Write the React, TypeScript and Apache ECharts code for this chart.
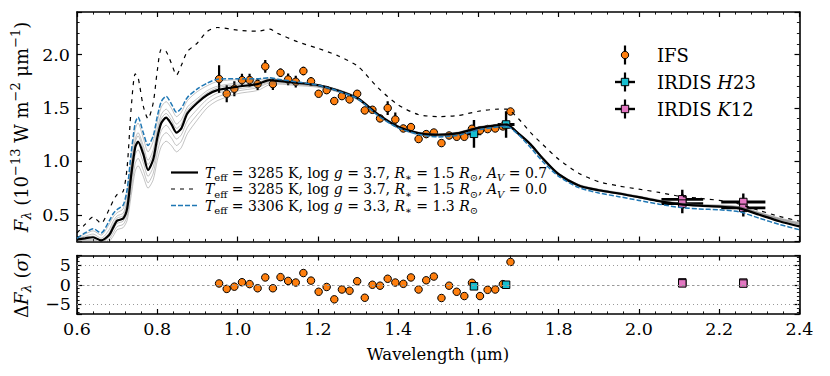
import React, { useEffect, useRef } from 'react';
import * as echarts from 'echarts';

const FONT = '"DejaVu Serif", serif';

// ---- model spectra (wavelength grid in micron, flux in 1e-13 W m^-2 um^-1)
const MODEL_WL = [0.60,0.62,0.64,0.66,0.68,0.69,0.70,0.715,0.725,0.735,0.745,0.752,0.765,0.777,0.79,0.80,0.81,0.822,0.835,0.848,0.86,0.875,0.90,0.925,0.95,1.00,1.05,1.08,1.10,1.15,1.20,1.25,1.30,1.35,1.40,1.45,1.50,1.55,1.60,1.65,1.67,1.70,1.73,1.76,1.80,1.85,1.90,1.95,2.00,2.05,2.10,2.15,2.20,2.25,2.30,2.35,2.40];
const BEST_FIT = [0.27,0.28,0.29,0.26,0.31,0.38,0.445,0.465,0.56,0.87,1.13,1.185,1.07,0.92,1.02,1.22,1.36,1.41,1.35,1.27,1.31,1.45,1.55,1.625,1.668,1.70,1.725,1.762,1.755,1.735,1.715,1.665,1.59,1.44,1.325,1.265,1.25,1.265,1.315,1.34,1.345,1.26,1.16,1.03,0.88,0.775,0.73,0.70,0.665,0.628,0.60,0.585,0.577,0.56,0.50,0.44,0.39];
const NO_EXTINCTION = [0.33,0.41,0.48,0.42,0.55,0.63,0.69,0.72,0.95,1.50,1.82,1.79,1.52,1.40,1.55,1.85,2.05,2.03,1.92,1.81,1.90,2.03,2.11,2.22,2.255,2.23,2.22,2.24,2.20,2.12,2.06,1.99,1.89,1.69,1.53,1.44,1.42,1.43,1.47,1.49,1.49,1.40,1.27,1.16,1.02,0.89,0.81,0.77,0.74,0.71,0.675,0.655,0.635,0.60,0.54,0.485,0.44];
const ALT_FIT = [0.28,0.33,0.37,0.33,0.44,0.51,0.55,0.59,0.74,1.08,1.36,1.415,1.27,1.15,1.24,1.42,1.56,1.61,1.54,1.46,1.50,1.60,1.68,1.735,1.77,1.775,1.775,1.785,1.77,1.745,1.715,1.66,1.585,1.43,1.315,1.255,1.23,1.245,1.295,1.325,1.33,1.25,1.13,1.00,0.86,0.755,0.705,0.67,0.635,0.60,0.57,0.555,0.547,0.528,0.468,0.41,0.36];
const SAMPLE_1 = [0.29,0.32,0.35,0.31,0.41,0.48,0.52,0.555,0.70,1.02,1.30,1.36,1.22,1.09,1.19,1.37,1.51,1.56,1.50,1.42,1.46,1.57,1.655,1.71,1.75,1.765,1.765,1.78,1.77,1.745,1.72,1.67,1.595,1.445,1.33,1.27,1.255,1.27,1.32,1.345,1.35,1.265,1.165,1.035,0.885,0.78,0.735,0.705,0.67,0.633,0.605,0.59,0.583,0.567,0.51,0.455,0.41];
const SAMPLE_2 = [0.28,0.30,0.32,0.28,0.36,0.44,0.49,0.515,0.64,0.96,1.21,1.27,1.15,1.01,1.11,1.30,1.44,1.49,1.43,1.35,1.39,1.51,1.59,1.665,1.705,1.735,1.745,1.77,1.765,1.74,1.72,1.67,1.595,1.445,1.33,1.27,1.255,1.27,1.32,1.345,1.35,1.265,1.165,1.035,0.885,0.78,0.735,0.705,0.67,0.635,0.607,0.593,0.586,0.572,0.517,0.462,0.418];
const SAMPLE_3 = [0.26,0.27,0.27,0.24,0.29,0.36,0.42,0.44,0.53,0.81,1.06,1.11,0.99,0.86,0.95,1.15,1.29,1.34,1.28,1.21,1.25,1.38,1.49,1.585,1.64,1.68,1.705,1.745,1.745,1.725,1.705,1.66,1.585,1.435,1.32,1.26,1.245,1.26,1.31,1.335,1.34,1.255,1.155,1.025,0.875,0.77,0.725,0.695,0.66,0.625,0.597,0.582,0.575,0.56,0.503,0.447,0.40];
const SAMPLE_4 = [0.25,0.26,0.26,0.23,0.27,0.33,0.39,0.41,0.49,0.74,0.98,1.03,0.92,0.80,0.89,1.08,1.22,1.27,1.22,1.15,1.19,1.32,1.44,1.545,1.605,1.66,1.69,1.735,1.735,1.72,1.70,1.655,1.58,1.43,1.315,1.255,1.24,1.255,1.305,1.33,1.335,1.25,1.15,1.02,0.87,0.768,0.724,0.695,0.66,0.627,0.60,0.586,0.58,0.566,0.51,0.455,0.41];
const SAMPLE_5 = [0.24,0.25,0.25,0.22,0.25,0.30,0.36,0.38,0.45,0.68,0.91,0.96,0.86,0.75,0.83,1.01,1.14,1.19,1.15,1.09,1.13,1.26,1.39,1.505,1.57,1.635,1.665,1.72,1.725,1.71,1.695,1.65,1.575,1.425,1.31,1.25,1.235,1.25,1.30,1.325,1.33,1.245,1.145,1.015,0.865,0.765,0.722,0.693,0.66,0.628,0.602,0.59,0.585,0.572,0.518,0.465,0.422];
const SAMPLE_6 = [0.27,0.29,0.30,0.26,0.33,0.41,0.47,0.49,0.61,0.91,1.18,1.24,1.11,0.97,1.07,1.26,1.40,1.45,1.39,1.31,1.35,1.48,1.57,1.645,1.69,1.72,1.73,1.765,1.76,1.74,1.72,1.675,1.60,1.45,1.335,1.275,1.26,1.275,1.325,1.35,1.355,1.27,1.17,1.04,0.89,0.785,0.74,0.71,0.675,0.64,0.612,0.598,0.592,0.578,0.523,0.47,0.428];
const SAMPLES = [SAMPLE_1, SAMPLE_2, SAMPLE_3, SAMPLE_4, SAMPLE_5, SAMPLE_6];

// ---- IFS data
const IFS_WL = [0.954,0.973,0.992,1.011,1.030,1.050,1.069,1.088,1.107,1.126,1.145,1.164,1.183,1.202,1.222,1.241,1.260,1.279,1.298,1.317,1.336,1.355,1.374,1.393,1.413,1.432,1.451,1.470,1.489,1.508,1.527,1.546,1.565,1.584,1.604,1.623,1.642,1.661,1.680];
const IFS_FLUX = [1.772,1.634,1.681,1.762,1.762,1.725,1.890,1.725,1.831,1.768,1.747,1.847,1.750,1.634,1.668,1.566,1.612,1.581,1.634,1.478,1.484,1.403,1.500,1.393,1.309,1.322,1.210,1.256,1.271,1.172,1.243,1.231,1.231,1.306,1.290,1.303,1.309,1.328,1.468];
const IFS_ERR = [0.13,0.08,0.07,0.06,0.06,0.055,0.06,0.055,0.04,0.055,0.055,0.04,0.04,0.03,0.03,0.03,0.03,0.03,0.03,0.025,0.03,0.03,0.065,0.065,0.03,0.03,0.03,0.03,0.03,0.03,0.025,0.025,0.025,0.025,0.025,0.025,0.025,0.025,0.025];
const IFS_RES = [0.33,-1.06,-0.49,0.65,0.16,-0.9,1.87,-0.9,1.95,0.98,0.57,3.0,1.06,-1.8,-0.57,-3.74,-1.22,-1.54,0.9,-3.33,0.0,-0.24,1.54,0.57,0.24,1.87,-1.22,1.14,2.1,-3.4,-0.24,-1.8,-2.9,0.5,-2.9,-1.3,-1.22,0.16,5.85];

// ---- IRDIS data
const H23_WL = [1.589, 1.669];
const H23_FLUX = [1.259, 1.346];
const H23_XERR = [0.018, 0.021];
const H23_YERR = [0.13, 0.125];
const H23_RES = [-0.4, 0.0];

const K12_WL = [2.108, 2.260];
const K12_XERR = [0.052, 0.055];
const K12_FLUX_A = [0.645, 0.62];
const K12_FLUX_B = [0.605, 0.565];
const K12_YERR_A = [0.09, 0.08];
const K12_YERR_B = [0.09, 0.08];
const K12_RES_A = [0.6, 0.55];
const K12_RES_B = [0.35, 0.3];

const X_RANGE = [0.6, 2.4];
const FLUX_RANGE = [0.25, 2.4];
const RES_RANGE = [-7.5, 7.5];
const RES_GUIDES = [5, 0, -5];

const ORANGE = '#ff7f0e';
const CYAN = '#17becf';
const PINK = '#e377c2';
const BLUE = '#1f77b4';

function pairs(xs: number[], ys: number[]) {
  const n = Math.min(xs.length, ys.length);
  const out: number[][] = [];
  for (let i = 0; i < n; i++) out.push([xs[i], ys[i]]);
  return out;
}

function errData(xs: number[], ys: number[], xe: number[] | null, ye: number[]) {
  return xs.map((x, i) => [x, ys[i], xe ? xe[i] : 0, ye[i]]);
}

function errorBarSeries(data: number[][], width: number) {
  return {
    type: 'custom',
    xAxisIndex: 0,
    yAxisIndex: 0,
    clip: true,
    silent: true,
    encode: { x: 0, y: 1 },
    data,
    renderItem: (params: any, api: any) => {
      const x = api.value(0);
      const y = api.value(1);
      const xe = api.value(2);
      const ye = api.value(3);
      const top = api.coord([x, y + ye]);
      const bot = api.coord([x, y - ye]);
      const children: any[] = [
        { type: 'line', shape: { x1: top[0], y1: top[1], x2: bot[0], y2: bot[1] }, style: { stroke: '#000', lineWidth: width } },
      ];
      if (xe > 0) {
        const l = api.coord([x - xe, y]);
        const r = api.coord([x + xe, y]);
        children.push({ type: 'line', shape: { x1: l[0], y1: l[1], x2: r[0], y2: r[1] }, style: { stroke: '#000', lineWidth: 2.8 } });
      }
      return { type: 'group', children };
    },
  };
}

function scatter(data: number[][], color: string, symbol: string, xi: number, yi: number, size = 7.5) {
  return {
    type: 'scatter',
    xAxisIndex: xi,
    yAxisIndex: yi,
    data,
    symbol,
    symbolSize: size,
    silent: true,
    itemStyle: { color, borderColor: '#000', borderWidth: 1, opacity: 1 },
  };
}

const baseAxis = {
  type: 'value',
  axisLine: { show: true, onZero: false, lineStyle: { color: '#000', width: 1.6 } },
  axisTick: { show: true, inside: true, length: 5, lineStyle: { color: '#000', width: 1.2 } },
  minorTick: { show: true, splitNumber: 5, length: 2.6, lineStyle: { color: '#000', width: 0.9 } },
  splitLine: { show: false },
  minorSplitLine: { show: false },
  axisLabel: { show: false },
};

const tickLabel = { show: true, fontFamily: FONT, fontSize: 17.5, color: '#000' };

function xAxis(grid: number, position: string, labels: boolean) {
  return {
    ...baseAxis,
    gridIndex: grid,
    position,
    min: X_RANGE[0],
    max: X_RANGE[1],
    interval: 0.2,
    axisLabel: labels ? { ...tickLabel, margin: 6, formatter: (v: number) => v.toFixed(1) } : { show: false },
  };
}

function fluxAxis(position: string, labels: boolean) {
  return {
    ...baseAxis,
    gridIndex: 0,
    position,
    min: FLUX_RANGE[0],
    max: FLUX_RANGE[1],
    splitNumber: 4,
    minInterval: 0.5,
    maxInterval: 0.5,
    axisLabel: labels
      ? { ...tickLabel, margin: 7, formatter: (v: number) => (Math.abs(v * 2 - Math.round(v * 2)) < 1e-6 ? v.toFixed(1) : '') }
      : { show: false },
  };
}

function resAxis(position: string, labels: boolean) {
  return {
    ...baseAxis,
    gridIndex: 1,
    position,
    min: RES_RANGE[0],
    max: RES_RANGE[1],
    splitNumber: 3,
    minInterval: 5,
    maxInterval: 5,
    axisLabel: labels
      ? {
          ...tickLabel,
          margin: 6,
          formatter: (v: number) => {
            if (Math.abs(v / 5 - Math.round(v / 5)) > 1e-6) return '';
            return v < 0 ? '\u2212' + Math.abs(v) : String(v);
          },
        }
      : { show: false },
  };
}

function rich(fs: number) {
  const lh = fs + 6;
  return {
    it: { fontFamily: FONT, fontStyle: 'italic', fontSize: fs, lineHeight: lh, fill: '#000' },
    n: { fontFamily: FONT, fontSize: fs, lineHeight: lh, fill: '#000' },
    sub: { fontFamily: FONT, fontSize: Math.round(fs * 0.7), lineHeight: Math.round(fs * 0.55), verticalAlign: 'bottom', fill: '#000' },
    subit: { fontFamily: FONT, fontStyle: 'italic', fontSize: Math.round(fs * 0.7), lineHeight: Math.round(fs * 0.55), verticalAlign: 'bottom', fill: '#000' },
    sup: { fontFamily: FONT, fontSize: Math.round(fs * 0.7), lineHeight: Math.round(fs * 0.6), verticalAlign: 'top', fill: '#000' },
  };
}

function label(text: string, x: number, y: number, fs: number, opts: any = {}) {
  return {
    type: 'text',
    x,
    y,
    rotation: opts.rotation || 0,
    silent: true,
    style: {
      text,
      fontFamily: FONT,
      fontSize: fs,
      lineHeight: fs + 6,
      fill: '#000',
      align: opts.align || 'left',
      verticalAlign: 'middle',
      rich: rich(fs),
    },
  };
}

const MODEL_LABELS = [
  '{it|T}{sub|eff} = 3285 K, log{it| g} = 3.7, {it|R}{sub|\u2217} = 1.5 {it|R}{sub|\u2299}, {it|A}{subit|V} = 0.7',
  '{it|T}{sub|eff} = 3285 K, log{it| g} = 3.7, {it|R}{sub|\u2217} = 1.5 {it|R}{sub|\u2299}, {it|A}{subit|V} = 0.0',
  '{it|T}{sub|eff} = 3306 K, log{it| g} = 3.3, {it|R}{sub|\u2217} = 1.3 {it|R}{sub|\u2299}',
];
const DATA_LABELS = ['IFS', 'IRDIS {it|H}23', 'IRDIS {it|K}12'];

function buildOption() {
  const series: any[] = [];
  SAMPLES.forEach((s) => {
    series.push({
      type: 'line', xAxisIndex: 0, yAxisIndex: 0, data: pairs(MODEL_WL, s), showSymbol: false, smooth: 0.25, silent: true,
      lineStyle: { color: 'rgba(105,105,105,0.5)', width: 0.8 },
    });
  });
  series.push({
    type: 'line', xAxisIndex: 0, yAxisIndex: 0, data: pairs(MODEL_WL, BEST_FIT), showSymbol: false, smooth: 0.25, silent: true,
    lineStyle: { color: '#000', width: 2.2 },
  });
  series.push({
    type: 'line', xAxisIndex: 0, yAxisIndex: 0, data: pairs(MODEL_WL, NO_EXTINCTION), showSymbol: false, smooth: 0.25, silent: true,
    lineStyle: { color: '#000', width: 1.2, type: [4, 5] },
  });
  series.push({
    type: 'line', xAxisIndex: 0, yAxisIndex: 0, data: pairs(MODEL_WL, ALT_FIT), showSymbol: false, smooth: 0.25, silent: true,
    lineStyle: { color: BLUE, width: 1.5, type: [5, 2] },
  });
  // data
  series.push(errorBarSeries(errData(IFS_WL, IFS_FLUX, null, IFS_ERR), 2.2));
  series.push(scatter(pairs(IFS_WL, IFS_FLUX), ORANGE, 'circle', 0, 0));
  series.push(errorBarSeries(errData(H23_WL, H23_FLUX, H23_XERR, H23_YERR), 2.4));
  series.push(scatter(pairs(H23_WL, H23_FLUX), CYAN, 'rect', 0, 0));
  series.push(errorBarSeries(errData(K12_WL, K12_FLUX_A, K12_XERR, K12_YERR_A), 2.4));
  series.push(scatter(pairs(K12_WL, K12_FLUX_A), PINK, 'rect', 0, 0));
  series.push(errorBarSeries(errData(K12_WL, K12_FLUX_B, K12_XERR, K12_YERR_B), 2.4));
  series.push(scatter(pairs(K12_WL, K12_FLUX_B), PINK, 'rect', 0, 0));
  // residuals
  const resIfs: any = scatter(pairs(IFS_WL, IFS_RES), ORANGE, 'circle', 2, 2);
  resIfs.markLine = {
    silent: true,
    symbol: ['none', 'none'],
    label: { show: false },
    data: RES_GUIDES.map((v) => ({
      yAxis: v,
      lineStyle: { color: '#999', width: 1, type: v === 0 ? [2.5, 2.5] : [1, 3] },
    })),
  };
  series.push(resIfs);
  series.push(scatter(pairs(H23_WL, H23_RES), CYAN, 'rect', 2, 2));
  series.push(scatter(pairs(K12_WL, K12_RES_A), PINK, 'rect', 2, 2));
  series.push(scatter(pairs(K12_WL, K12_RES_B), PINK, 'rect', 2, 2));

  const graphic: any[] = [];
  // axis titles
  graphic.push(label('{it|F}{subit|\u03bb} (10{sup|\u221213} W m{sup|\u22122} \u03bcm{sup|\u22121})', 21, 127, 18, { rotation: Math.PI / 2, align: 'center' }));
  graphic.push(label('\u0394{it|F}{subit|\u03bb} ({it|\u03c3})', 21, 285, 18, { rotation: Math.PI / 2, align: 'center' }));
  graphic.push(label('Wavelength (\u03bcm)', 438, 354, 16.5, { align: 'center' }));

  // model legend
  const modelY = [172.5, 189, 205.5];
  const modelStyles = [
    { stroke: '#000', lineWidth: 2.2 },
    { stroke: '#000', lineWidth: 1.2, lineDash: [4, 5] },
    { stroke: BLUE, lineWidth: 1.5, lineDash: [5, 2] },
  ];
  modelY.forEach((y, i) => {
    graphic.push({ type: 'line', silent: true, shape: { x1: 171, y1: y, x2: 198, y2: y }, style: modelStyles[i] });
    graphic.push(label(MODEL_LABELS[i], 205, y, 14));
  });

  // data legend
  const legY = [55, 82, 109];
  const legColors = [ORANGE, CYAN, PINK];
  legY.forEach((y, i) => {
    graphic.push({ type: 'line', silent: true, shape: { x1: 625, y1: y - 9.5, x2: 625, y2: y + 9.5 }, style: { stroke: '#000', lineWidth: 2.2 } });
    if (i === 0) {
      graphic.push({ type: 'circle', silent: true, shape: { cx: 625, cy: y, r: 3.7 }, style: { fill: ORANGE, stroke: '#000', lineWidth: 1 } });
    } else {
      graphic.push({ type: 'line', silent: true, shape: { x1: 615, y1: y, x2: 635, y2: y }, style: { stroke: '#000', lineWidth: 2.4 } });
      graphic.push({ type: 'rect', silent: true, shape: { x: 621.3, y: y - 3.7, width: 7.4, height: 7.4 }, style: { fill: legColors[i], stroke: '#000', lineWidth: 1 } });
    }
    graphic.push(label(DATA_LABELS[i], 657, y, 18));
  });

  return {
    animation: false,
    backgroundColor: '#fff',
    textStyle: { fontFamily: FONT },
    grid: [
      { left: 77, right: 30.5, top: 12, height: 229.5 },
      { left: 77, right: 30.5, top: 255.5, height: 58.5 },
    ],
    xAxis: [xAxis(0, 'bottom', false), xAxis(0, 'top', false), xAxis(1, 'bottom', true), xAxis(1, 'top', false)],
    yAxis: [fluxAxis('left', true), fluxAxis('right', false), resAxis('left', true), resAxis('right', false)],
    series,
    graphic,
  };
}

export default function App() {
  const ref = useRef<HTMLDivElement>(null);
  useEffect(() => {
    document.body.style.margin = '0';
    const chart = echarts.init(ref.current as HTMLDivElement, null, { renderer: 'svg' });
    chart.setOption(buildOption() as any);
    return () => chart.dispose();
  }, []);
  return <div ref={ref} style={{ width: 830, height: 376 }} />;
}
